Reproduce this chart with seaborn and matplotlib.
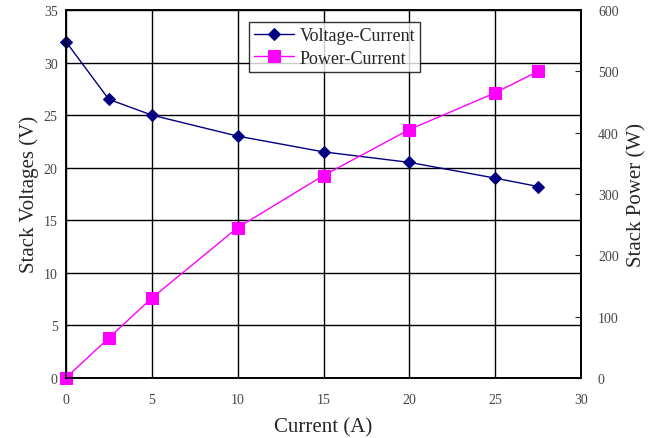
import matplotlib.pyplot as plt
import seaborn as sns
import pandas as pd

current = [0, 2.5, 5, 10, 15, 20, 25, 27.5]
voltage = [32, 26.5, 25, 23, 21.5, 20.5, 19, 18.2]
power = [0, 65, 130, 245, 330, 405, 465, 500]

df = pd.DataFrame({"Current": current, "Voltage": voltage, "Power": power})

sns.set_style("white")
plt.rcParams["font.family"] = ["Liberation Serif", "DejaVu Serif"]

fig = plt.figure(figsize=(6.65, 4.39), dpi=100)
ax = fig.add_axes([0.099, 0.137, 0.775, 0.838])
ax2 = ax.twinx()

sns.lineplot(data=df, x="Current", y="Voltage", ax=ax, color="#000080",
             marker="D", markersize=6, markeredgecolor="#000080",
             linewidth=1, label="Voltage-Current", legend=False, clip_on=False)
sns.lineplot(data=df, x="Current", y="Power", ax=ax2, color="#ff00ff",
             marker="s", markersize=8, markeredgecolor="#ff00ff",
             linewidth=1, label="Power-Current", legend=False, clip_on=False)

ax.set_xlim(0, 30)
ax.set_ylim(0, 35)
ax2.set_ylim(0, 600)
ax.set_xticks(range(0, 31, 5))
ax.set_yticks(range(0, 36, 5))
ax2.set_yticks(range(0, 601, 100))
ax.grid(True, color="black", linewidth=1)
ax.set_axisbelow(True)

for a in (ax, ax2):
    for s in a.spines.values():
        s.set_color("black")
        s.set_linewidth(1.2)
ax.tick_params(axis="y", labelsize=10, labelcolor="#444444", length=0, pad=6)
ax.tick_params(axis="x", labelsize=10, labelcolor="#444444", length=0, pad=11)
ax2.tick_params(axis="y", labelsize=10, labelcolor="#444444", direction="in",
                length=4, pad=12)

ax.set_xlabel("Current (A)", fontsize=15, labelpad=8)
ax.set_ylabel("Stack Voltages (V)", fontsize=15, labelpad=3)
ax2.set_ylabel("Stack Power (W)", fontsize=15, labelpad=6)

h1, l1 = ax.get_legend_handles_labels()
h2, l2 = ax2.get_legend_handles_labels()
leg = ax2.legend(h1 + h2, l1 + l2, loc="upper left", bbox_to_anchor=(0.355, 0.968),
                 fontsize=13, frameon=True, fancybox=False, edgecolor="black",
                 borderpad=0.3, labelspacing=0.3, handlelength=2.2,
                 handletextpad=0.3, borderaxespad=0)
leg.get_frame().set_linewidth(1)

fig.savefig("out.png", dpi=100)
